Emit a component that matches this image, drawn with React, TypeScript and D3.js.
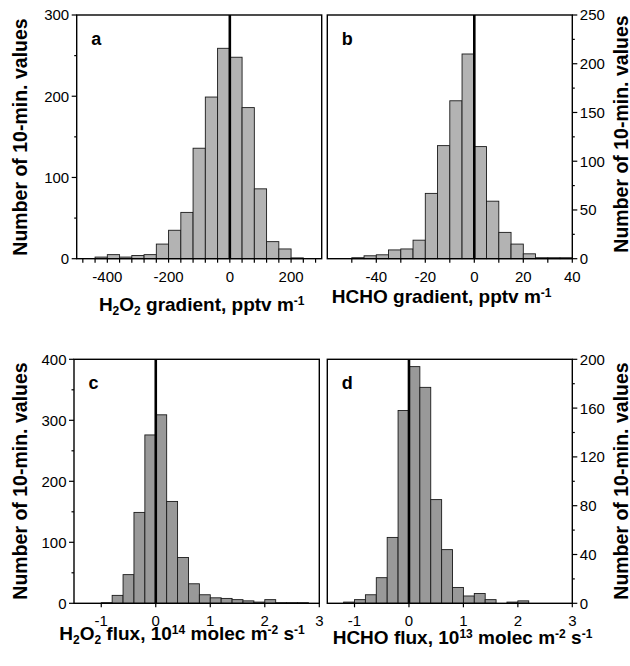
import React from 'react';
import * as d3 from 'd3';

const FONT = '"Liberation Sans", Arial, Helvetica, sans-serif';

// a: H2O2 gradient, pptv m-1 (bins of 40)
const h2o2GradStarts = [-440, -400, -360, -320, -280, -240, -200, -160, -120, -80, -40, 0, 40, 80, 120, 160, 200];
const h2o2GradCounts = [2, 5, 2, 4, 5, 18, 35, 57, 136, 199, 259, 248, 186, 86, 21, 12, 1];
const h2o2GradXTicks = [-480, -440, -400, -360, -320, -280, -240, -200, -160, -120, -80, -40, 0, 40, 80, 120, 160, 200, 240, 280];
const h2o2GradXLabels = [-400, -200, 0, 200];
const h2o2GradYLabels = [0, 100, 200, 300];
const h2o2GradYMinor = [50, 150, 250];

// b: HCHO gradient, pptv m-1 (bins of 5)
const hchoGradStarts = [-50, -45, -40, -35, -30, -25, -20, -15, -10, -5, 0, 5, 10, 15, 20, 25, 30, 35];
const hchoGradCounts = [1, 3, 4, 9, 10, 19, 67, 116, 162, 210, 115, 59, 27, 15, 5, 1, 1, 1];
const hchoGradXTicks = [-50, -40, -30, -20, -10, 0, 10, 20, 30, 40];
const hchoGradXLabels = [-40, -20, 0, 20, 40];
const hchoGradYLabels = [0, 50, 100, 150, 200, 250];
const hchoGradYMinor = [25, 75, 125, 175, 225];

// c: H2O2 flux, 1e14 molec m-2 s-1 (bins of 0.2)
const h2o2FluxStarts = [-1.0, -0.8, -0.6, -0.4, -0.2, 0, 0.2, 0.4, 0.6, 0.8, 1.0, 1.2, 1.4, 1.6, 1.8, 2.0, 2.2, 2.4, 2.6];
const h2o2FluxCounts = [1, 13, 47, 149, 276, 309, 167, 75, 32, 14, 9, 8, 6, 4, 2, 6, 1, 1, 1];
const h2o2FluxYLabels = [0, 100, 200, 300, 400];
const h2o2FluxYMinor = [50, 150, 250, 350];

// d: HCHO flux, 1e13 molec m-2 s-1 (bins of 0.2)
const hchoFluxStarts = [-1.2, -1.0, -0.8, -0.6, -0.4, -0.2, 0, 0.2, 0.4, 0.6, 0.8, 1.0, 1.2, 1.4, 1.6, 1.8, 2.0];
const hchoFluxCounts = [1, 3, 7, 21, 54, 158, 194, 177, 85, 44, 13, 6, 8, 3, 0, 1, 2];
const hchoFluxYLabels = [0, 40, 80, 120, 160, 200];
const hchoFluxYMinor = [20, 60, 100, 140, 180];

const fluxXTicks = [-1, 0, 1, 2, 3];

type PanelProps = {
    box: { left: number; right: number; top: number; bottom: number };
    xDomain: [number, number];
    yMax: number;
    starts: number[];
    counts: number[];
    binWidth: number;
    fill: string;
    xTicks: number[];
    xLabels: number[];
    yLabels: number[];
    yMinor: number[];
    side: 'left' | 'right';
    letter: string;
};

function Panel(props: PanelProps) {
    const { box, side } = props;
    const x = d3.scaleLinear().domain(props.xDomain).range([box.left, box.right]);
    const y = d3.scaleLinear().domain([0, props.yMax]).range([box.bottom, box.top]);
    const axisX = side === 'left' ? box.left : box.right;
    const dir = side === 'left' ? -1 : 1;

    return (
        <g>
            {props.starts.map((s, i) => (
                props.counts[i] > 0 ? (
                    <rect
                        key={i}
                        x={x(s)}
                        y={y(props.counts[i])}
                        width={x(s + props.binWidth) - x(s)}
                        height={y(0) - y(props.counts[i])}
                        fill={props.fill}
                        stroke="#1a1a1a"
                        strokeWidth={0.9}
                    />
                ) : null
            ))}
            <line x1={x(0)} x2={x(0)} y1={box.top} y2={box.bottom} stroke="#000" strokeWidth={2.6} />
            <rect x={box.left} y={box.top} width={box.right - box.left} height={box.bottom - box.top}
                fill="none" stroke="#000" strokeWidth={1.4} />
            {/* x ticks */}
            {props.xTicks.map((t) => (
                <line key={'xt' + t} x1={x(t)} x2={x(t)} y1={box.bottom} y2={box.bottom + 4} stroke="#000" strokeWidth={1.2} />
            ))}
            {props.xLabels.map((t) => (
                <text key={'xl' + t} x={x(t)} y={box.bottom + 23} textAnchor="middle" fontSize={15} fontFamily={FONT}>{t}</text>
            ))}
            {/* y ticks */}
            {props.yLabels.map((t) => (
                <line key={'yt' + t} x1={axisX} x2={axisX + dir * 5} y1={y(t)} y2={y(t)} stroke="#000" strokeWidth={1.2} />
            ))}
            {props.yMinor.map((t) => (
                <line key={'ym' + t} x1={axisX} x2={axisX + dir * 2.5} y1={y(t)} y2={y(t)} stroke="#000" strokeWidth={1.2} />
            ))}
            {props.yLabels.map((t) => (
                <text key={'yl' + t} x={axisX + dir * 7.5} y={y(t)} dy="0.36em"
                    textAnchor={side === 'left' ? 'end' : 'start'} fontSize={15} fontFamily={FONT}>{t}</text>
            ))}
            <text x={box.left + 14.5} y={box.top + 30} fontSize={18} fontWeight="bold" fontFamily={FONT}>{props.letter}</text>
        </g>
    );
}

function YTitle({ x, y }: { x: number; y: number }) {
    return (
        <text transform={`translate(${x},${y}) rotate(-90)`} textAnchor="middle" fontSize={19.5}
            fontWeight="bold" fontFamily={FONT}>Number of 10-min. values</text>
    );
}

// pieces: [text, shift] where shift is 'sub', 'sup' or '' (normal)
type Piece = [string, string];

function Title({ x, y, pieces }: { x: number; y: number; pieces: Piece[] }) {
    let level = 0;
    return (
        <text x={x} y={y} textAnchor="middle" fontSize={19} fontWeight="bold" fontFamily={FONT}>
            {pieces.map(([txt, kind], i) => {
                const target = kind === 'sub' ? 4 : kind === 'sup' ? -6 : 0;
                const dy = target - level;
                level = target;
                return (
                    <tspan key={i} dy={dy} fontSize={kind ? 12 : 19}>{txt}</tspan>
                );
            })}
        </text>
    );
}

const titleA: Piece[] = [['H', ''], ['2', 'sub'], ['O', ''], ['2', 'sub'], [' gradient, pptv m', ''], ['-1', 'sup']];
const titleB: Piece[] = [['HCHO gradient, pptv m', ''], ['-1', 'sup']];
const titleC: Piece[] = [['H', ''], ['2', 'sub'], ['O', ''], ['2', 'sub'], [' flux, 10', ''], ['14', 'sup'],
    [' molec m', ''], ['-2', 'sup'], [' s', ''], ['-1', 'sup']];
const titleD: Piece[] = [['HCHO flux, 10', ''], ['13', 'sup'], [' molec m', ''], ['-2', 'sup'], [' s', ''], ['-1', 'sup']];

export default function App() {
    const boxA = { left: 76.7, right: 321.7, top: 15, bottom: 258.7 };
    const boxB = { left: 327.3, right: 572.3, top: 15, bottom: 258.7 };
    const boxC = { left: 74, right: 319.3, top: 359.3, bottom: 603.3 };
    const boxD = { left: 327.3, right: 572.3, top: 359.3, bottom: 603.3 };

    return (
        <div style={{ position: 'absolute', left: 0, top: 0 }}>
            <svg width={630} height={666} style={{ display: 'block', background: '#fff' }}>
                <Panel box={boxA} xDomain={[-500, 300]} yMax={300} starts={h2o2GradStarts} counts={h2o2GradCounts}
                    binWidth={40} fill="#b3b3b3" xTicks={h2o2GradXTicks} xLabels={h2o2GradXLabels}
                    yLabels={h2o2GradYLabels} yMinor={h2o2GradYMinor} side="left" letter="a" />
                <Panel box={boxB} xDomain={[-60, 40]} yMax={250} starts={hchoGradStarts} counts={hchoGradCounts}
                    binWidth={5} fill="#b3b3b3" xTicks={hchoGradXTicks} xLabels={hchoGradXLabels}
                    yLabels={hchoGradYLabels} yMinor={hchoGradYMinor} side="right" letter="b" />
                <Panel box={boxC} xDomain={[-1.5, 3]} yMax={400} starts={h2o2FluxStarts} counts={h2o2FluxCounts}
                    binWidth={0.2} fill="#999999" xTicks={fluxXTicks} xLabels={fluxXTicks}
                    yLabels={h2o2FluxYLabels} yMinor={h2o2FluxYMinor} side="left" letter="c" />
                <Panel box={boxD} xDomain={[-1.5, 3]} yMax={200} starts={hchoFluxStarts} counts={hchoFluxCounts}
                    binWidth={0.2} fill="#999999" xTicks={fluxXTicks} xLabels={fluxXTicks}
                    yLabels={hchoFluxYLabels} yMinor={hchoFluxYMinor} side="right" letter="d" />

                <YTitle x={27} y={137} />
                <YTitle x={27} y={481} />
                <YTitle x={628} y={134} />
                <YTitle x={628} y={481} />

                <Title x={201.7} y={310.7} pieces={titleA} />
                <Title x={441.7} y={302.7} pieces={titleB} />
                <Title x={182} y={640} pieces={titleC} />
                <Title x={462.5} y={644} pieces={titleD} />
            </svg>
        </div>
    );
}
